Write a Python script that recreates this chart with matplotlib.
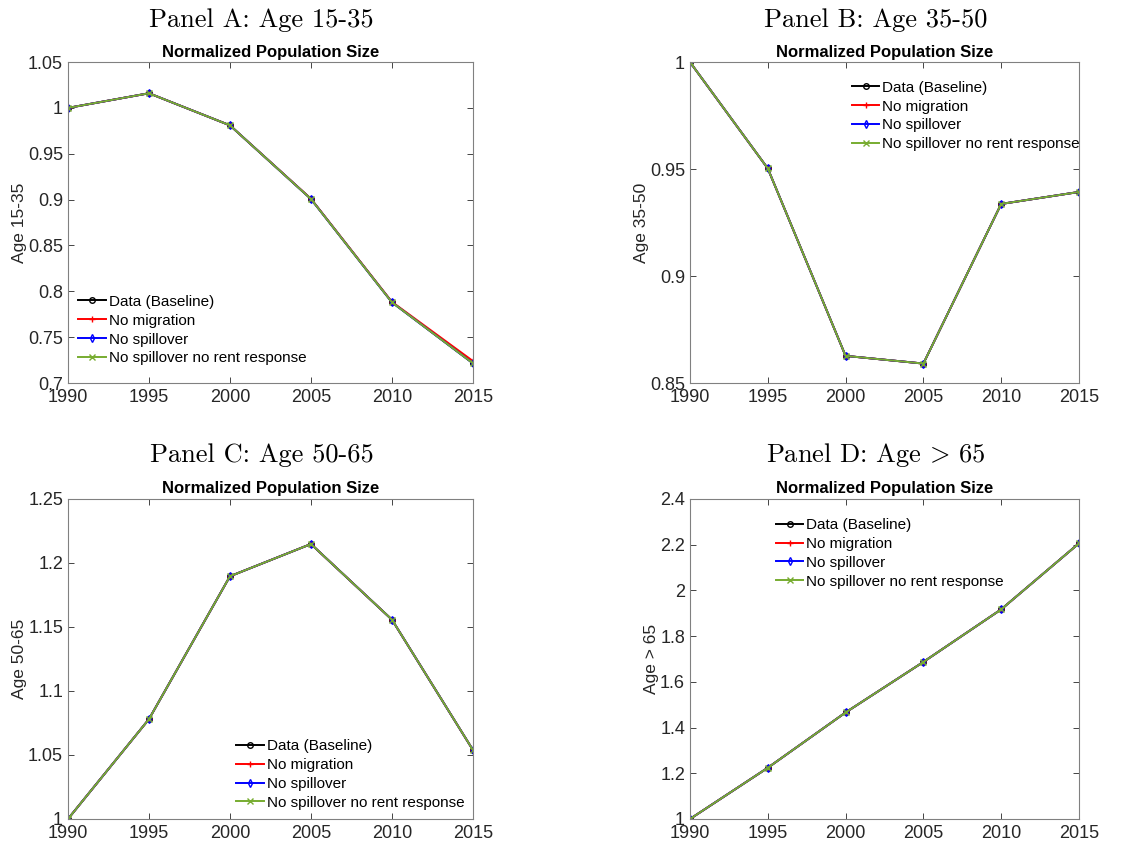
import matplotlib
matplotlib.use('Agg')
import matplotlib.pyplot as plt
from matplotlib.ticker import FuncFormatter

plt.rcParams['font.family'] = ['Liberation Sans', 'DejaVu Sans']
plt.rcParams['mathtext.fontset'] = 'cm'

years = [1990, 1995, 2000, 2005, 2010, 2015]

# Panel A: Age 15-35
a_data = [1.0, 1.016, 0.981, 0.9007, 0.788, 0.7215]
a_nomig = [1.0, 1.016, 0.981, 0.9010, 0.7885, 0.7240]
a_nospill = [1.0, 1.016, 0.981, 0.9007, 0.788, 0.7215]
a_norent = [1.0, 1.016, 0.981, 0.9007, 0.788, 0.7215]

# Panel B: Age 35-50
b_data = [1.0, 0.9503, 0.8627, 0.8591, 0.9337, 0.9393]
b_nomig = [1.0, 0.9503, 0.8627, 0.8591, 0.9337, 0.9393]
b_nospill = [1.0, 0.9503, 0.8627, 0.8591, 0.9337, 0.9393]
b_norent = [1.0, 0.9503, 0.8627, 0.8591, 0.9337, 0.9393]

# Panel C: Age 50-65
c_data = [1.0, 1.078, 1.1896, 1.2148, 1.1557, 1.0539]
c_nomig = [1.0, 1.078, 1.1896, 1.2148, 1.1557, 1.0539]
c_nospill = [1.0, 1.078, 1.1896, 1.2148, 1.1557, 1.0539]
c_norent = [1.0, 1.078, 1.1896, 1.2148, 1.1557, 1.0539]

# Panel D: Age > 65
d_data = [1.0, 1.224, 1.466, 1.687, 1.917, 2.206]
d_nomig = [1.0, 1.224, 1.466, 1.687, 1.917, 2.206]
d_nospill = [1.0, 1.224, 1.466, 1.687, 1.917, 2.206]
d_norent = [1.0, 1.224, 1.466, 1.687, 1.917, 2.206]

labels = ['Data (Baseline)', 'No migration', 'No spillover', 'No spillover no rent response']
colors = ['black', 'red', 'blue', '#77ac30']
markers = ['o', '+', 'd', 'x']

panels = [
    # title, ylabel, series, ylim, yticks, axes rect, legend anchor
    ('Panel A: Age 15-35', 'Age 15-35', [a_data, a_nomig, a_nospill, a_norent],
     (0.7, 1.05), [0.7, 0.75, 0.8, 0.85, 0.9, 0.95, 1.0, 1.05],
     [0.0604, 0.5483, 0.360, 0.3785], (0.025, 0.165)),
    ('Panel B: Age 35-50', 'Age 35-50', [b_data, b_nomig, b_nospill, b_norent],
     (0.85, 1.0), [0.85, 0.9, 0.95, 1.0],
     [0.6133, 0.5483, 0.3458, 0.3785], (0.416, 0.832)),
    ('Panel C: Age 50-65', 'Age 50-65', [c_data, c_nomig, c_nospill, c_norent],
     (1.0, 1.25), [1.0, 1.05, 1.1, 1.15, 1.2, 1.25],
     [0.0604, 0.0342, 0.360, 0.3774], (0.415, 0.139)),
    (r'Panel D: Age$\,>\,$65', 'Age > 65', [d_data, d_nomig, d_nospill, d_norent],
     (1.0, 2.4), [1.0, 1.2, 1.4, 1.6, 1.8, 2.0, 2.2, 2.4],
     [0.6133, 0.0342, 0.3458, 0.3774], (0.221, 0.83)),
]

fig = plt.figure(figsize=(11.25, 8.48), dpi=100)

for title, ylab, series, ylim, yticks, rect, anchor in panels:
    ax = fig.add_axes(rect)
    for vals, lab, c, m in zip(series, labels, colors, markers):
        ax.plot(years, vals, color=c, marker=m, markersize=4, linewidth=1.4,
                markeredgewidth=1.0, markerfacecolor='none', label=lab)
    ax.set_xlim(1990, 2015)
    ax.set_ylim(*ylim)
    ax.set_xticks(years)
    ax.set_yticks(yticks)
    ax.yaxis.set_major_formatter(FuncFormatter(lambda v, p: '%g' % round(v, 4)))
    ax.tick_params(direction='in', top=True, right=True, length=4, width=0.6,
                   colors='0.15', labelsize=13, labelcolor='0.15')
    ax.tick_params(axis='x', pad=4.5)
    ax.tick_params(axis='y', pad=3.5)
    for s in ax.spines.values():
        s.set_color('0.5')
        s.set_linewidth(0.8)
    ax.set_ylabel(ylab, fontsize=12.5, color='0.15', labelpad=1)
    ax.set_title('Normalized Population Size', fontsize=12, fontweight='bold', pad=4)
    ax.legend(loc='center left', bbox_to_anchor=anchor, frameon=False, fontsize=11,
              borderpad=0, borderaxespad=0, handlelength=1.8, handletextpad=0.2,
              labelspacing=0.32)
    cx = rect[0] + rect[2] / 2
    cy = 1 - 20 / 848 if rect[1] > 0.5 else 1 - 455 / 848
    fig.text(cx - 0.008, cy, title, ha='center', va='center', fontsize=19, family='cmr10')

plt.savefig('out.png')
